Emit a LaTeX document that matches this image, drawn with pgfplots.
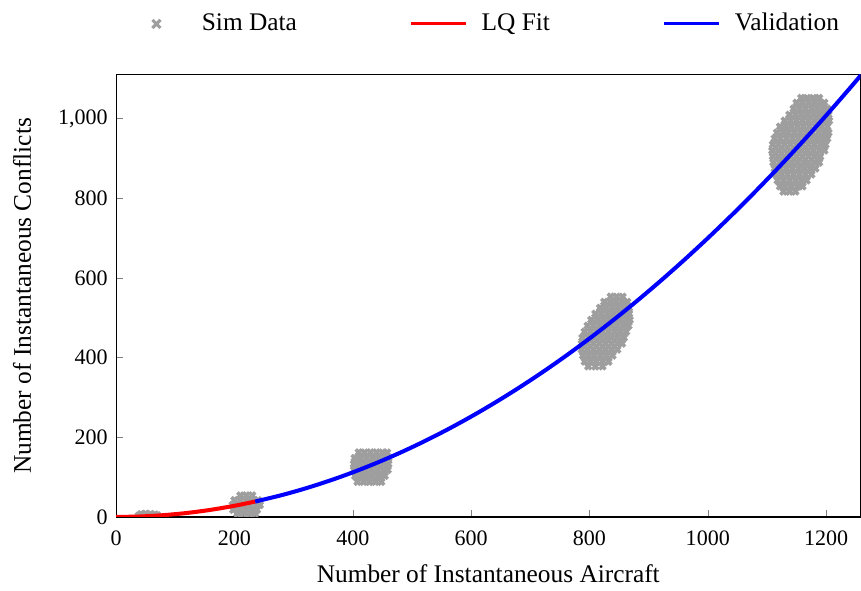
\documentclass[border=0pt]{standalone}
\usepackage{fontspec}
\setmainfont{Liberation Serif}
\usepackage{pgfplots}
\usepackage{pgfplotstable}
\pgfplotsset{compat=1.18}
\definecolor{simgray}{HTML}{9E9E9E}
\pgfplotsset{
  longline legend/.style={legend image code/.code={\draw[##1, line width=1.3pt] (0cm,0cm) -- (0.82cm,0cm);}},
  widemark legend/.style={legend image code/.code={\path[draw=none,fill=none] (0cm,0cm) (0.82cm,0cm);\draw[##1, mark size=2.4pt, line width=1.3pt] plot[only marks] coordinates {(0.35cm,0cm)};}},
}

\pgfplotstableread{
x y
38 3
46 5
54 4
62 3
70 4
42 7
50 8
58 7
66 6
210 54
220 54
230 54
200 42
210 42
220 42
230 42
240 42
197 30
207 30
217 30
227 30
237 30
243 30
198 18
208 18
218 18
228 18
238 18
205 8
215 8
225 8
235 8
410 162
420 162
430 162
440 162
450 162
458 162
403 148
413 148
423 148
433 148
443 148
453 148
460 148
402 133
412 133
422 133
432 133
442 133
452 133
460 133
402 118
412 118
422 118
432 118
442 118
452 118
459 118
404 103
414 103
424 103
434 103
444 103
454 103
408 88
418 88
428 88
438 88
448 88
836 553
846 553
856 553
825 540
835 540
845 540
855 540
864 540
818 525
828 525
838 525
848 525
858 525
867 525
810 510
820 510
830 510
840 510
850 510
860 510
867 510
803 495
813 495
823 495
833 495
843 495
853 495
863 495
868 495
797 480
807 480
817 480
827 480
837 480
847 480
857 480
866 480
792 465
802 465
812 465
822 465
832 465
842 465
852 465
862 465
788 450
798 450
808 450
818 450
828 450
838 450
848 450
858 450
787 435
797 435
807 435
817 435
827 435
837 435
847 435
855 435
787 420
797 420
807 420
817 420
827 420
837 420
847 420
789 405
799 405
809 405
819 405
829 405
839 405
792 390
802 390
812 390
822 390
832 390
798 378
810 378
822 378
1158 1052
1168 1052
1178 1052
1188 1052
1150 1040
1160 1040
1170 1040
1180 1040
1190 1040
1197 1040
1145 1025
1155 1025
1165 1025
1175 1025
1185 1025
1195 1025
1202 1025
1138 1010
1148 1010
1158 1010
1168 1010
1178 1010
1188 1010
1198 1010
1204 1010
1130 995
1140 995
1150 995
1160 995
1170 995
1180 995
1190 995
1200 995
1205 995
1122 980
1132 980
1142 980
1152 980
1162 980
1172 980
1182 980
1192 980
1202 980
1117 965
1127 965
1137 965
1147 965
1157 965
1167 965
1177 965
1187 965
1197 965
1204 965
1113 950
1123 950
1133 950
1143 950
1153 950
1163 950
1173 950
1183 950
1193 950
1202 950
1110 935
1120 935
1130 935
1140 935
1150 935
1160 935
1170 935
1180 935
1190 935
1199 935
1109 920
1119 920
1129 920
1139 920
1149 920
1159 920
1169 920
1179 920
1189 920
1197 920
1110 905
1120 905
1130 905
1140 905
1150 905
1160 905
1170 905
1180 905
1190 905
1111 890
1121 890
1131 890
1141 890
1151 890
1161 890
1171 890
1181 890
1188 890
1113 875
1123 875
1133 875
1143 875
1153 875
1163 875
1173 875
1182 875
1115 860
1125 860
1135 860
1145 860
1155 860
1165 860
1175 860
1118 845
1128 845
1138 845
1148 845
1158 845
1167 845
1122 830
1132 830
1142 830
1152 830
1160 830
1128 817
1138 817
1148 817
}\simdata

\pgfplotstableread{
x y
0 0
40 1.12
80 4.48
120 10.08
160 17.92
200 28
235 38.66
}\lqfit

\pgfplotstableread{
x y
235 38.66
280 54.88
320 71.68
360 90.72
400 112
440 135.52
480 161.28
520 189.28
560 219.52
600 252
640 286.72
680 323.68
720 362.88
760 404.32
800 448
840 493.92
880 542.08
920 592.48
960 645.12
1000 700
1040 757.12
1080 816.48
1120 878.08
1160 941.92
1200 1008
1240 1076.32
1260 1111.32
}\validation

\begin{document}
\begin{tikzpicture}
\begin{axis}[
  name=ax,
  scale only axis,
  width=314pt, height=186.5pt,
  xmin=0, xmax=1258, ymin=0, ymax=1110,
  xtick={0,200,...,1200}, ytick={0,200,...,1000},
  tick pos=left, tick align=inside, major tick length=2.8pt,
  axis line style={line width=0.5pt},
  clip marker paths=true,
  /pgf/number format/assume math mode=true,
  x tick label style={/pgf/number format/1000 sep={}, yshift=-2.5pt},
  y tick label style={/pgf/number format/1000 sep={,}},
  tick label style={font=\fontsize{9.3}{11}\selectfont},
  label style={font=\fontsize{10.7}{12.8}\selectfont},
  ylabel style={yshift=4.5pt},
  xlabel style={yshift=-1pt},
  xlabel={Number of Instantaneous Aircraft},
  ylabel={Number of Instantaneous Conflicts},
  legend columns=3,
  legend cell align=left,
  legend style={draw=none, fill=none, at={(0.5,1)}, anchor=center, yshift=21.5pt,
    font=\fontsize{10.7}{12.8}\selectfont,
    /tikz/every odd column/.append style={column sep=3.8pt},
    /tikz/every even column/.append style={column sep=45.5pt}},
]
\addplot[only marks, mark=x, mark size=1.8pt, color=simgray, line width=1.5pt, widemark legend]
  table[x=x,y=y] {\simdata};
\addlegendentry{Sim Data}
\addplot[color=red, line width=1.7pt, smooth, longline legend]
  table[x=x,y=y] {\lqfit};
\addlegendentry{LQ Fit}
\addplot[color=blue, line width=1.7pt, smooth, longline legend]
  table[x=x,y=y] {\validation};
\addlegendentry{Validation}
\end{axis}
\path ([xshift=-49pt,yshift=-29.3pt]ax.south west) rectangle ([yshift=31.6pt]ax.north east);
\end{tikzpicture}
\end{document}
